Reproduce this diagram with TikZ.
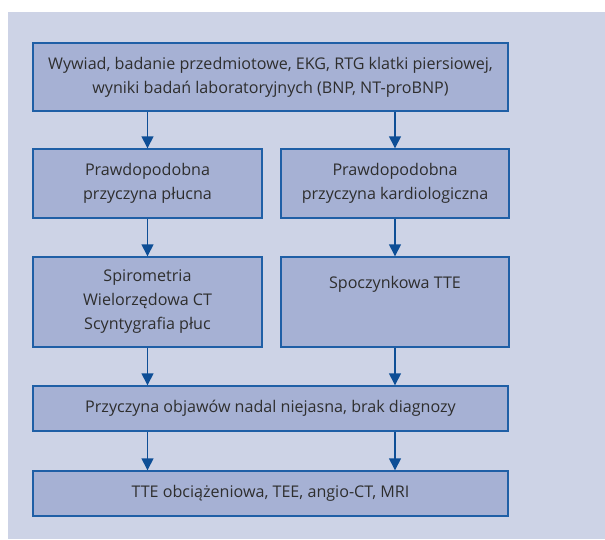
\documentclass[tikz,border=0pt]{standalone}
\usepackage{fontspec}
\setmainfont{Open Sans}
\usetikzlibrary{arrows.meta}
\definecolor{panel}{HTML}{CDD3E6}
\definecolor{boxfill}{HTML}{A6B1D4}
\definecolor{boxline}{HTML}{1F5FA6}
\definecolor{arrowc}{HTML}{0E4E96}
\definecolor{txt}{HTML}{2E2E2E}
\tikzset{
  stepbox/.style={draw=boxline, fill=boxfill, line width=1.4pt, inner sep=0pt},
  lbl/.style={text=txt, font=\fontsize{16.1}{24}\selectfont, align=center, inner sep=0pt},
  flow/.style={draw=arrowc, line width=1.4pt, -{Triangle[width=12pt,length=12pt]}},
}
\begin{document}
\begin{tikzpicture}[x=1pt,y=-1pt]
  \useasboundingbox (0,0) rectangle (605,539);
  \fill[panel] (8,12) rectangle (605,539);

  % boxes
  \node[stepbox, minimum width=475pt, minimum height=68pt] (top) at (270.5,77) {};
  \node[stepbox, minimum width=229pt, minimum height=69pt] (lp) at (147.5,183.5) {};
  \node[stepbox, minimum width=228pt, minimum height=69pt] (rc) at (395,183.5) {};
  \node[stepbox, minimum width=229pt, minimum height=90pt] (lt) at (147.5,302) {};
  \node[stepbox, minimum width=228pt, minimum height=90pt] (rt) at (395,302) {};
  \node[stepbox, minimum width=475pt, minimum height=45pt] (mid) at (270.5,408.5) {};
  \node[stepbox, minimum width=475pt, minimum height=45pt] (bot) at (270.5,493.5) {};

  % labels
  \node[lbl] (ttop) at (top.center) {Wywiad, badanie przedmiotowe, EKG, RTG klatki piersiowej,\\wyniki badań laboratoryjnych (BNP, NT-proBNP)};
  \node[lbl] (tlp) at (lp.center) {Prawdopodobna\\przyczyna płucna};
  \node[lbl] (trc) at (rc.center) {Prawdopodobna\\przyczyna kardiologiczna};
  \node[lbl] (tlt) at (lt.center) {Spirometria\\Wielorzędowa CT\\Scyntygrafia płuc};
  \node[lbl, anchor=base] (trt) at (395,288) {Spoczynkowa TTE};
  \node[lbl] (tmid) at (mid.center) {Przyczyna objawów nadal niejasna, brak diagnozy};
  \node[lbl] (tbot) at (bot.center) {TTE obciążeniowa, TEE, angio-CT, MRI};

  % connectors
  \draw[flow] (top.south -| lp.north) -- (lp.north);
  \draw[flow] (top.south -| rc.north) -- (rc.north);
  \draw[flow] (lp.south) -- (lt.north);
  \draw[flow] (rc.south) -- (rt.north);
  \draw[flow] (lt.south) -- (mid.north -| lt.south);
  \draw[flow] (rt.south) -- (mid.north -| rt.south);
  \draw[flow] (mid.south -| lt.south) -- (bot.north -| lt.south);
  \draw[flow] (mid.south -| rt.south) -- (bot.north -| rt.south);
\end{tikzpicture}
\end{document}
